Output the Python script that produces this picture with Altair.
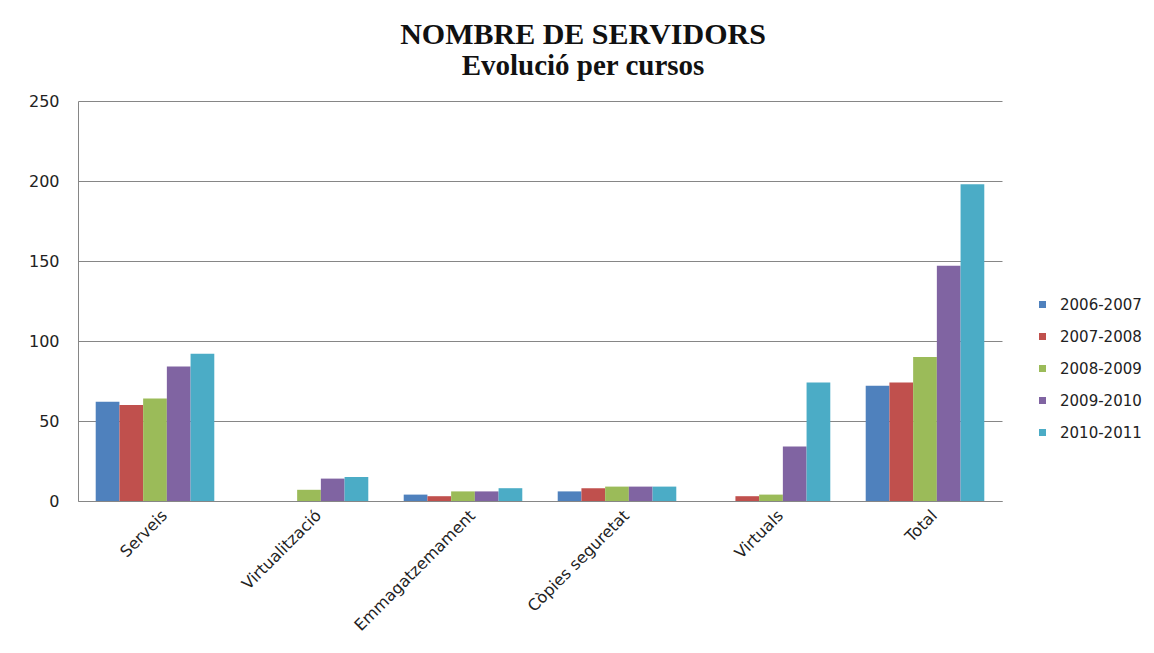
import altair as alt
import pandas as pd

categories = ["Serveis", "Virtualització", "Emmagatzemament", "Còpies seguretat", "Virtuals", "Total"]
courses = ["2006-2007", "2007-2008", "2008-2009", "2009-2010", "2010-2011"]
v_2006_2007 = [62, 0, 4, 6, 0, 72]
v_2007_2008 = [60, 0, 3, 8, 3, 74]
v_2008_2009 = [64, 7, 6, 9, 4, 90]
v_2009_2010 = [84, 14, 6, 9, 34, 147]
v_2010_2011 = [92, 15, 8, 9, 74, 198]
colors = ["#4F81BD", "#C0504D", "#9BBB59", "#8064A2", "#4BACC6"]

series = [v_2006_2007, v_2007_2008, v_2008_2009, v_2009_2010, v_2010_2011]
rows = []
for course, vals in zip(courses, series):
    for cat, v in zip(categories, vals):
        rows.append({"categoria": cat, "curs": course, "valor": v})
df = pd.DataFrame(rows)

font = "DejaVu Sans"

chart = alt.Chart(df).mark_bar().encode(
    x=alt.X("categoria:N", sort=categories,
            scale=alt.Scale(paddingInner=0.23, paddingOuter=0.115),
            axis=alt.Axis(title=None, labelAngle=-45, labelAlign="right", labelBaseline="top",
                          labelFontSize=16, labelFont=font, labelColor="#222222",
                          domainColor="#868686", ticks=False, labelPadding=6, labelOffset=4)),
    xOffset=alt.XOffset("curs:N", sort=courses),
    y=alt.Y("valor:Q", scale=alt.Scale(domain=[0, 250]),
            axis=alt.Axis(title=None, values=[0, 50, 100, 150, 200, 250], labelFontSize=16,
                          labelFont=font, labelColor="#222222", domainColor="#868686",
                          gridColor="#868686", gridWidth=1, ticks=False, labelPadding=19)),
    color=alt.Color("curs:N", sort=courses, scale=alt.Scale(domain=courses, range=colors),
                    legend=alt.Legend(title=None, orient="none", legendX=957, legendY=196,
                                      symbolType="square", symbolSize=49, symbolStrokeWidth=0,
                                      labelFontSize=15, labelFont=font, labelColor="#222222",
                                      rowPadding=16, labelOffset=10)),
).properties(
    width=924, height=400,
    title=alt.TitleParams(text="NOMBRE DE SERVIDORS", subtitle="Evolució per cursos",
                          font="Liberation Serif", fontSize=30, fontWeight="bold", color="#111111",
                          subtitleFont="Liberation Serif", subtitleFontSize=29,
                          subtitleFontWeight="bold", subtitleColor="#111111",
                          anchor="middle", dx=43, offset=12, subtitlePadding=2),
    padding={"left": 20, "top": 12, "right": 0, "bottom": 5},
    background="white",
).configure_view(strokeWidth=0)

chart.save("out.html", embed_options={"renderer": "svg", "actions": False})
